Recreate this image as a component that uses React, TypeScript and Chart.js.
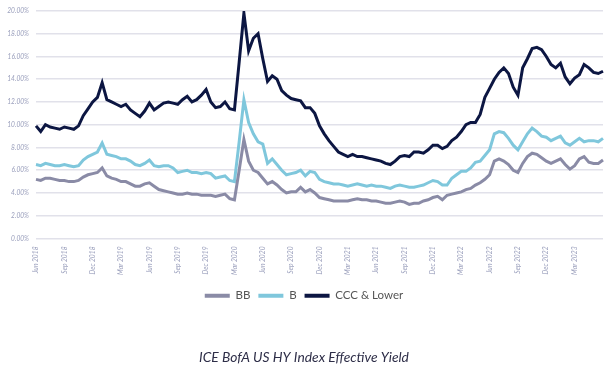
import React, { useEffect, useRef } from "react";
import { Chart, registerables } from "chart.js";

Chart.register(...registerables);

const monthNames = ["Jan", "Feb", "Mar", "Apr", "May", "Jun", "Jul", "Aug", "Sep", "Oct", "Nov", "Dec"];

// half-month periods from Jun 2018 to Jun 2023
const categories: string[] = [];
for (let i = 0; i <= 120; i++) {
  const m = 5 + Math.floor(i / 2);
  const label = `${monthNames[m % 12]} ${2018 + Math.floor(m / 12)}`;
  categories.push(i % 2 === 0 ? label : `mid ${label}`);
}

const tickLabelEvery = 6; // quarterly tick labels
const lastTickIndex = 114; // Mar 2023

const bbValues = [
  5.2, 5.1, 5.3, 5.3, 5.2, 5.1, 5.1, 5.0, 5.0, 5.1,
  5.4, 5.6, 5.7, 5.8, 6.2, 5.5, 5.3, 5.2, 5.0, 5.0,
  4.8, 4.6, 4.6, 4.8, 4.9, 4.6, 4.3, 4.2, 4.1, 4.0,
  3.9, 3.9, 4.0, 3.9, 3.9, 3.8, 3.8, 3.8, 3.7, 3.8,
  3.9, 3.5, 3.4, 6.0, 8.7, 6.8, 6.0, 5.8, 5.3, 4.8,
  5.0, 4.7, 4.3, 4.0, 4.1, 4.1, 4.5, 4.1, 4.3, 4.0,
  3.6, 3.5, 3.4, 3.3, 3.3, 3.3, 3.3, 3.4, 3.5, 3.4,
  3.4, 3.3, 3.3, 3.2, 3.1, 3.1, 3.2, 3.3, 3.2, 3.0,
  3.1, 3.1, 3.3, 3.4, 3.6, 3.7, 3.4, 3.8, 3.9, 4.0,
  4.1, 4.3, 4.4, 4.7, 4.9, 5.2, 5.6, 6.8, 7.0, 6.8,
  6.5, 6.0, 5.8, 6.6, 7.2, 7.5, 7.4, 7.1, 6.8, 6.6,
  6.8, 7.0, 6.5, 6.1, 6.4, 7.0, 7.2, 6.7, 6.6, 6.6,
  6.9,
];

const bValues = [
  6.5, 6.4, 6.6, 6.5, 6.4, 6.4, 6.5, 6.4, 6.3, 6.4,
  6.9, 7.2, 7.4, 7.6, 8.4, 7.4, 7.3, 7.2, 7.0, 7.0,
  6.8, 6.5, 6.4, 6.6, 6.9, 6.4, 6.3, 6.4, 6.4, 6.2,
  5.8, 5.9, 6.0, 5.8, 5.8, 5.7, 5.8, 5.7, 5.3, 5.4,
  5.5, 5.1, 5.0, 8.5, 12.2, 10.2, 9.2, 8.5, 8.3, 6.6,
  7.0, 6.5, 6.0, 5.6, 5.7, 5.8, 6.0, 5.5, 5.9, 5.8,
  5.2, 5.0, 4.9, 4.8, 4.8, 4.7, 4.6, 4.7, 4.8, 4.7,
  4.6, 4.7, 4.6, 4.6, 4.5, 4.4, 4.6, 4.7, 4.6, 4.5,
  4.5, 4.6, 4.7, 4.9, 5.1, 5.0, 4.7, 4.7, 5.3, 5.6,
  5.9, 5.9, 6.2, 6.7, 6.8, 7.3, 7.8, 9.2, 9.4, 9.3,
  8.8, 8.2, 7.8, 8.5, 9.2, 9.7, 9.4, 9.0, 8.9, 8.6,
  8.8, 9.0, 8.4, 8.2, 8.5, 8.8, 8.5, 8.6, 8.6, 8.5,
  8.8,
];

const cccValues = [
  9.9, 9.4, 10.0, 9.8, 9.7, 9.6, 9.8, 9.7, 9.6, 9.9,
  10.8, 11.4, 12.0, 12.4, 13.7, 12.2, 12.0, 11.8, 11.6, 11.8,
  11.3, 11.0, 10.7, 11.2, 11.9, 11.3, 11.6, 11.9, 12.0, 11.9,
  11.8, 12.2, 12.5, 12.0, 12.2, 12.6, 13.1, 12.0, 11.5, 11.6,
  12.0, 11.4, 11.3, 15.5, 19.8, 16.5, 17.6, 18.0, 15.8, 13.8,
  14.3, 14.0, 13.0, 12.6, 12.3, 12.2, 12.1, 11.5, 11.5, 11.0,
  9.9, 9.2, 8.6, 8.1, 7.6, 7.4, 7.2, 7.4, 7.2, 7.2,
  7.1, 7.0, 6.9, 6.8, 6.6, 6.5, 6.8, 7.2, 7.3, 7.2,
  7.6, 7.6, 7.5, 7.8, 8.2, 8.2, 7.9, 8.1, 8.6, 8.9,
  9.4, 10.0, 10.2, 10.2, 10.9, 12.4, 13.2, 14.0, 14.6, 15.0,
  14.5, 13.3, 12.6, 15.0, 15.8, 16.7, 16.8, 16.6, 16.0, 15.3,
  15.0, 15.4, 14.2, 13.6, 14.1, 14.4, 15.3, 15.0, 14.6, 14.5,
  14.7,
];

const seriesNames = ["BB", "B", "CCC & Lower"];
const seriesColors = ["#8a8ba6", "#7fc7dc", "#0c1642"];
const yTicks = { min: 0, max: 20, step: 2 };
const chartTitle = "ICE BofA US HY Index Effective Yield";

export default function App() {
  const ref = useRef<HTMLCanvasElement | null>(null);

  useEffect(() => {
    if (!ref.current) return;
    const values = [bbValues, bValues, cccValues];
    const chart = new Chart(ref.current, {
      type: "line",
      data: {
        labels: categories,
        datasets: values.map((v, k) => ({
          label: seriesNames[k],
          data: v,
          borderColor: seriesColors[k],
          backgroundColor: seriesColors[k],
          borderWidth: 3,
          pointRadius: 0,
          tension: 0,
          fill: false,
        })),
      },
      options: {
        responsive: false,
        animation: false,
        layout: { padding: { left: 5, right: 8, top: 3, bottom: 0 } },
        scales: {
          x: {
            grid: { display: false, drawTicks: false },
            border: { display: false },
            afterFit: (s: any) => {
              s.height -= 1;
            },
            ticks: {
              autoSkip: false,
              maxRotation: 90,
              minRotation: 90,
              padding: 8,
              color: "#9a9fbc",
              font: { family: "Lato", size: 6.7, style: "italic" },
              callback: (_v: any, i: number) =>
                i % tickLabelEvery === 0 && i <= lastTickIndex ? categories[i].replace("mid ", "") : null,
            },
          },
          y: {
            min: yTicks.min,
            max: yTicks.max,
            grid: { color: "#e1e1ea", lineWidth: 1.5, drawTicks: false },
            border: { display: false },
            afterFit: (s: any) => {
              s.width = 31;
            },
            ticks: {
              stepSize: yTicks.step,
              padding: 7,
              color: "#9a9fbc",
              font: { family: "Lato", size: 6.6, style: "italic" },
              callback: (v: any) => Number(v).toFixed(2) + "%",
            },
          },
        },
        plugins: {
          legend: {
            position: "bottom",
            labels: {
              boxWidth: 25,
              boxHeight: 4,
              padding: 8,
              color: "#555555",
              font: { family: "Lato", size: 11.5 },
              generateLabels: (c: any) =>
                Chart.defaults.plugins.legend.labels.generateLabels(c).map((l: any) => ({ ...l, lineWidth: 0 })),
            },
          },
          title: {
            display: true,
            text: chartTitle,
            position: "bottom",
            color: "#2e2e48",
            font: { family: "Lato", size: 13.8, style: "italic", weight: "normal" },
            padding: { top: 38, bottom: 11 },
          },
          tooltip: { enabled: false },
        },
      },
    });
    return () => chart.destroy();
  }, []);

  return (
    <div style={{ position: "absolute", left: 0, top: 0, width: 611, height: 377, background: "#fff" }}>
      <canvas ref={ref} width={611} height={377} />
    </div>
  );
}
